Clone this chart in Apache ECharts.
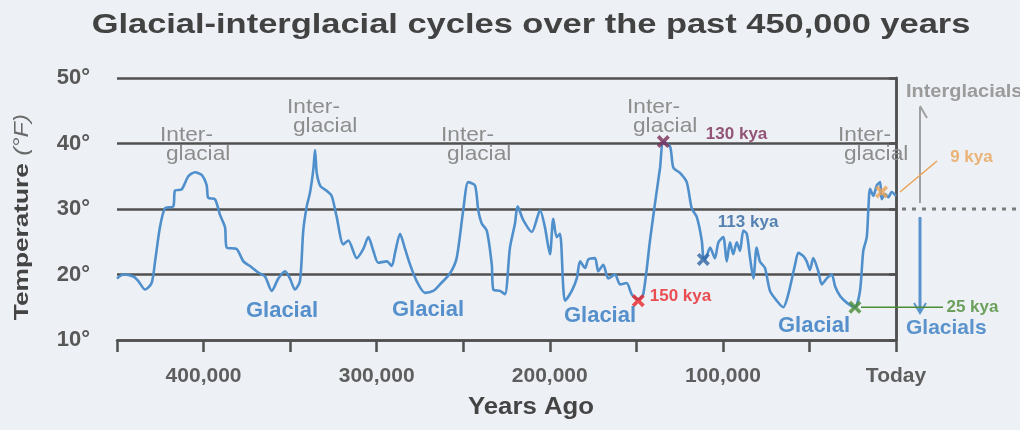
<!DOCTYPE html>
<html><head><meta charset="utf-8">
<script src="https://cdn.jsdelivr.net/npm/echarts/dist/echarts.min.js"></script>
<style>html,body{margin:0;padding:0;background:#edf0f4}#c{width:1020px;height:430px}</style>
</head><body><div id="c"></div>
<script>
// ---- data (years ago in thousands, temperature in °F) ----
const ages = [450,446.4,440.6,437.7,433.8,430.0,428.0,425.2,422.3,417.5,416.5,412.6,408.8,404.9,401.1,398.2,397.3,393.4,390.5,387.6,386.6,380.9,377.0,373.2,368.4,364.5,360.6,356.8,352.9,350.1,347.2,344.3,342.4,340.4,338.5,336.6,335.6,334.6,332.5,328.9,326.0,323.1,319.3,316.4,311.5,307.7,304.8,301.9,299.1,294.2,291.3,289.4,286.5,283.6,280.7,276.9,272.1,267.3,263.4,257.6,253.8,250.0,247.1,243.2,241.3,239.3,236.4,233.5,232.6,228.8,225.9,223.0,220.1,218.6,215.3,210.4,205.6,202.8,199.9,198.0,196.0,194.1,192.2,191.2,187.3,184.4,182.5,179.6,177.7,173.9,172.0,169.1,166.2,162.3,159.4,155.6,152.7,148.9,146.0,142.1,139.2,136.3,134.4,130.5,128.6,124.8,120.9,118.0,115.1,112.2,111.3,110.3,107.4,104.6,102.6,99.8,97.8,95.9,94.0,92.0,90.1,88.2,86.2,84.3,82.4,80.5,78.6,75.7,72.8,68.9,65.1,62.2,58.3,56.4,53.5,51.6,49.7,47.8,44.9,42.9,40.0,37.1,35.2,32.3,28.5,23.7,20.8,18.9,16.9,16.0,15.0,13.1,11.1,9.2,8.3,6.3,4.4,2.5,0];
const temps = [19.4,20.0,19.7,19.0,17.7,18.7,22.0,27.2,30.1,30.4,32.8,33.0,35.0,35.6,35.2,33.6,31.7,31.5,29.1,27.2,24.1,23.9,22.0,21.3,20.3,19.7,17.5,19.4,20.5,19.4,17.7,19.0,26.7,30.4,32.5,36.0,39.0,35.5,33.5,32.8,32.0,28.8,24.6,25.2,22.5,23.9,25.7,23.6,21.8,22.0,21.3,23.3,26.2,23.9,21.5,19.0,17.2,17.5,18.5,20.2,22.5,29.8,34.1,33.6,29.8,27.8,26.7,21.5,17.7,17.5,17.0,24.1,27.8,30.4,28.3,26.5,29.8,27.2,23.1,28.5,25.7,26.2,18.0,16.0,17.5,19.4,22.0,21.0,22.3,22.5,20.5,21.5,19.4,20.0,18.5,18.7,17.0,16.2,17.0,25.2,30.9,36.3,40.3,39.5,36.3,35.5,34.1,30.1,28.8,25.2,22.5,22.3,24.1,22.5,24.9,25.7,22.0,24.9,23.1,24.9,23.6,26.7,26.2,22.5,19.4,24.1,22.0,21.0,17.5,16.0,15.0,17.0,21.5,23.3,22.8,22.0,20.7,22.5,20.5,18.5,19.4,20.0,18.2,16.7,15.7,15.0,17.5,23.6,25.7,29.8,33.1,32.0,33.6,34.1,31.5,32.3,31.8,32.6,32.0];
const xTickLabels = {400:'400,000', 300:'300,000', 200:'200,000', 100:'100,000', 0:'Today'};
const yTicks = [10,20,30,40,50];
const markerNames = ['130 kya','150 kya','113 kya','25 kya','9 kya'];
const markerAges  = [134.4, 148.9, 111.3, 23.7, 8.3];
const markerTemps = [40.3, 16.0, 22.3, 15.0, 32.6];

// ---- styles ----
const FONT = "'Liberation Sans', Arial, Helvetica, sans-serif";
const markerColors = ['#7b2d57','#e8262b','#2f66a3','#4a8c36','#eaa258'];
const labelOffsets = [[36,-7],[5,-4],[8,-37],[85,0],[62,-35]];
const gridColor = '#505050';

const chart = echarts.init(document.getElementById('c'), null, {renderer:'canvas'});

function txt(text, x, y, size, color, weight, align, valign, sx, rot, rich) {
  const st = {text:text, x:0, y:0, fill:color,
    font:(weight||'normal')+' '+size+'px '+FONT, fontSize:size, fontWeight:weight||'normal', fontFamily:FONT,
    align:align||'left', textAlign:align||'left', verticalAlign:valign||'top', textVerticalAlign:valign||'top'};
  if (rich) st.rich = rich;
  return {type:'text', z:10, x:x, y:y, scaleX:sx||1, scaleY:1, rotation:rot||0, style:st};
}
function line(x1,y1,x2,y2,color,w,dash){
  return {type:'line', z:10, shape:{x1:x1,y1:y1,x2:x2,y2:y2}, style:{stroke:color, lineWidth:w, lineDash:dash||null}};
}
function poly(pts,color,w){
  return {type:'polyline', z:10, shape:{points:pts}, style:{stroke:color, lineWidth:w, fill:null}};
}

const IG = '#8d8d8d', GL = '#5690cc';
const graphics = [
  txt('Glacial-interglacial cycles over the past 450,000 years', 531, 25, 28, '#424242', 'bold', 'center', 'middle', 1.23),
  txt('Years Ago', 531, 408, 23, '#444', 'bold', 'center', 'middle', 1.12),
  txt('{a|Temperature} {b|(°F)}', 22, 217, 21, '#444', 'bold', 'center', 'middle', 1.25, Math.PI/2, {
      a:{fontSize:21, fontWeight:'bold', fill:'#444', color:'#444', fontFamily:FONT},
      b:{fontSize:20, fontStyle:'italic', fontWeight:'normal', fill:'#6a6a6a', color:'#6a6a6a', fontFamily:FONT}}),
  // Inter-glacial labels
  txt('Inter-', 160, 125, 21, IG, null, null, null, 1.08), txt('glacial', 166, 144, 21, IG, null, null, null, 1.08),
  txt('Inter-', 287, 97, 21, IG, null, null, null, 1.08),  txt('glacial', 293, 116, 21, IG, null, null, null, 1.08),
  txt('Inter-', 441, 125, 21, IG, null, null, null, 1.08), txt('glacial', 447, 144, 21, IG, null, null, null, 1.08),
  txt('Inter-', 627, 97, 21, IG, null, null, null, 1.08),  txt('glacial', 633, 116, 21, IG, null, null, null, 1.08),
  txt('Inter-', 838, 125, 21, IG, null, null, null, 1.08), txt('glacial', 844, 144, 21, IG, null, null, null, 1.08),
  // Glacial labels
  txt('Glacial', 282, 311, 22, GL, 'bold', 'center', 'middle'),
  txt('Glacial', 428, 310, 22, GL, 'bold', 'center', 'middle'),
  txt('Glacial', 600, 316, 22, GL, 'bold', 'center', 'middle'),
  txt('Glacial', 814, 326, 22, GL, 'bold', 'center', 'middle'),
  // right-side legend
  txt('Interglacials', 906, 92, 19, '#9b9b9b', 'bold', 'left', 'middle', 1.05),
  line(920,107,920,203,'#a0a0a0',2),
  poly([[920,106],[927,118]],'#a0a0a0',2),
  line(902,209,1020,209,'#7a7a7a',3,[4,6]),
  line(920,217,920,311,'#5a93cc',3),
  poly([[914,303],[920,313],[926,303]],'#5a93cc',2),
  txt('Glacials', 906, 328, 21, '#5b93cc', 'bold', 'left', 'middle'),
  // 9 kya leader
  line(900,192,937,161,'#eaa258',1.5)
];

const option = {
  backgroundColor: '#edf0f4',
  animation: false,
  grid: {left:117, right:124, top:78, bottom:90, containLabel:false},
  xAxis: {
    type:'value', min:0, max:450, interval:50, inverse:true,
    axisLine:{show:true, lineStyle:{color:gridColor, width:2.5}},
    axisTick:{show:true, length:12, lineStyle:{color:gridColor, width:2.5}},
    axisLabel:{margin:26, fontSize:21, fontWeight:'bold', color:'#5e5e5e', fontFamily:FONT,
      formatter: v => (xTickLabels[v] !== undefined ? xTickLabels[v] : '')},
    splitLine:{show:false}
  },
  yAxis: [{
    type:'value', min:yTicks[0], max:yTicks[yTicks.length-1], interval:10,
    axisLine:{show:true, lineStyle:{color:gridColor, width:2.5}},
    axisTick:{show:true, length:7, lineStyle:{color:gridColor, width:2.5}},
    axisLabel:{margin:27, fontSize:22, fontWeight:'bold', color:'#585858', fontFamily:FONT, formatter: v => v + '°'},
    splitLine:{show:true, lineStyle:{color:gridColor, width:2.5}}
  },{
    type:'value', position:'right', min:10, max:50,
    axisLine:{show:true, lineStyle:{color:gridColor, width:2.5}},
    axisTick:{show:false}, axisLabel:{show:false}, splitLine:{show:false}
  }],
  series: [{
    type:'line', data: ages.map((a,i)=>[a, temps[i]]),
    showSymbol:false, smooth:0.25, z:3,
    lineStyle:{color:'#4f8fcc', width:2.6}
  },{
    type:'scatter', z:5,
    symbol:'path://M0,2L2,0L5,3L8,0L10,2L7,5L10,8L8,10L5,7L2,10L0,8L3,5Z',
    symbolSize:13,
    data: markerAges.map((a,i)=>({
      value:[a, markerTemps[i]],
      itemStyle:{color:markerColors[i]},
      label:{show:true, formatter:markerNames[i], color:markerColors[i], position:'right', distance:0,
        offset:labelOffsets[i], fontSize:17, fontWeight:'bold', fontFamily:FONT}
    }))
  }],
  graphic: graphics
};
chart.setOption(option);

// green leader from the 25 kya marker
const gp = chart.convertToPixel({gridIndex:0}, [markerAges[3], markerTemps[3]]);
graphics.push(line(gp[0]+6, gp[1], 943, gp[1], markerColors[3], 1.5));
chart.setOption({graphic: graphics});
</script></body></html>
